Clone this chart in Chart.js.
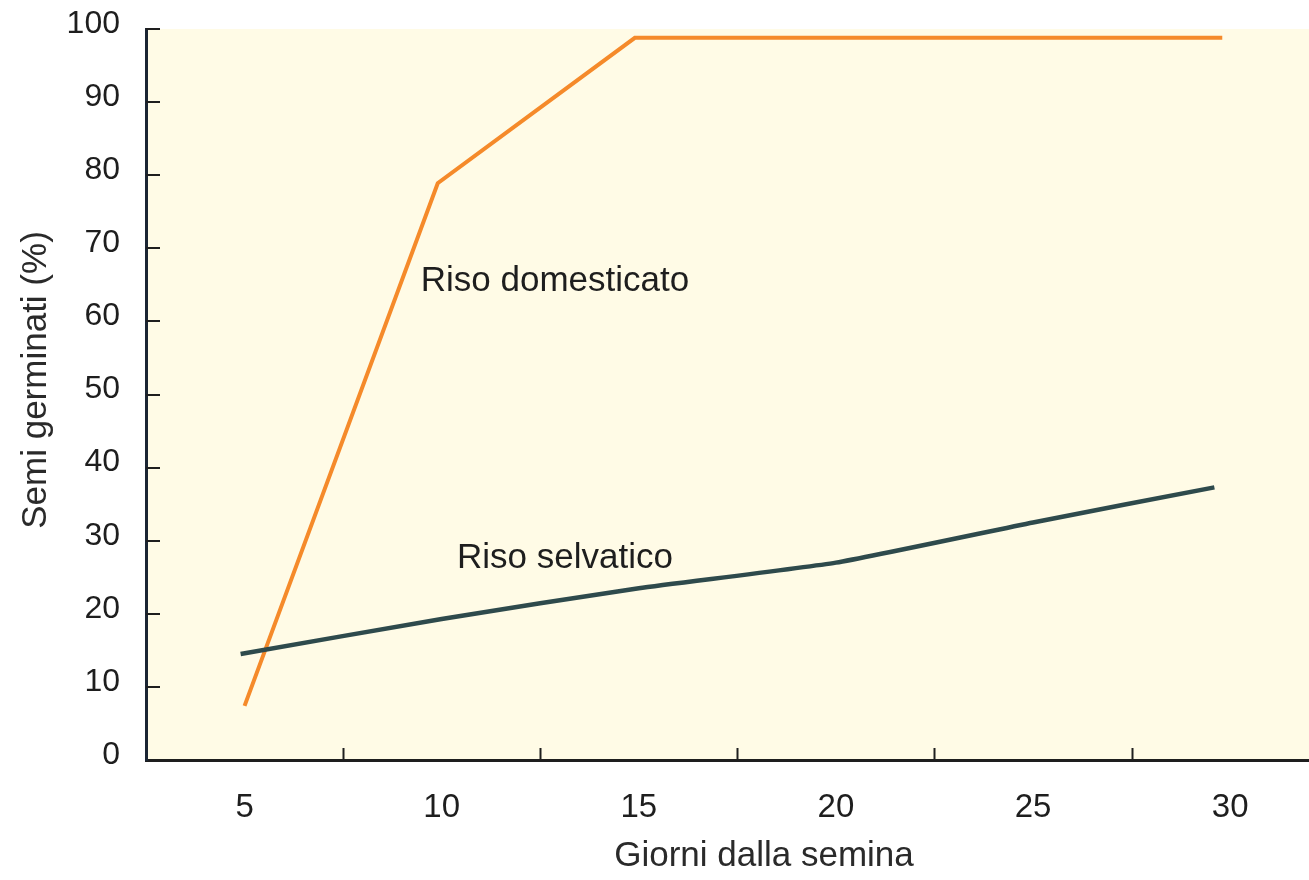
<!DOCTYPE html>
<html>
<head>
<meta charset="utf-8">
<script src="https://cdn.jsdelivr.net/npm/chart.js@4/dist/chart.umd.min.js"></script>
<style>
  body { margin: 0; background: #ffffff; }
  #box { width: 1309px; height: 880px; }
</style>
</head>
<body>
<div id="box"><canvas id="grafico" width="1309" height="880"></canvas></div>
<script>
// dati
const giorniDomesticato = [5, 9.9, 14.9, 29.8];
const risoDomesticato = [7.4, 78.9, 98.8, 98.8];
const giorniSelvatico = [4.9, 10, 15, 20, 25, 29.6];
const risoSelvatico = [14.5, 19.3, 23.5, 27, 32.5, 37.3];

const xTickLabels = [5, 10, 15, 20, 25, 30];
const xTickMarks = [7.5, 12.5, 17.5, 22.5, 27.5];
const yTickLabels = [0, 10, 20, 30, 40, 50, 60, 70, 80, 90, 100];

const etichette = [
    { testo: 'Riso domesticato', x: 9.47, y: 65.5 },
    { testo: 'Riso selvatico', x: 10.39, y: 27.6 }
];

const font = 'Liberation Sans, Arial, Helvetica, sans-serif';

const sfondoPlugin = {
    id: 'sfondo',
    beforeDraw(chart) {
        const { ctx, chartArea } = chart;
        ctx.save();
        ctx.fillStyle = '#fffbe6';
        ctx.fillRect(chartArea.left, chartArea.top, chartArea.right - chartArea.left, chartArea.bottom - chartArea.top);
        ctx.restore();
    },
    afterDraw(chart) {
        const { ctx, chartArea, scales } = chart;
        ctx.save();
        // tacche interne
        ctx.strokeStyle = '#1e1e1e';
        ctx.lineWidth = 2;
        xTickMarks.forEach(v => {
            const px = Math.round(scales.x.getPixelForValue(v)) + 0.5;
            ctx.beginPath();
            ctx.moveTo(px, chartArea.bottom);
            ctx.lineTo(px, chartArea.bottom - 12);
            ctx.stroke();
        });
        yTickLabels.forEach(v => {
            if (v === 0) return;
            const py = Math.round(scales.y.getPixelForValue(v));
            ctx.beginPath();
            ctx.moveTo(chartArea.left, py);
            ctx.lineTo(chartArea.left + 14, py);
            ctx.stroke();
        });
        // etichette delle curve
        ctx.fillStyle = '#1e1e1e';
        ctx.font = '35px ' + font;
        ctx.textAlign = 'left';
        ctx.textBaseline = 'middle';
        etichette.forEach(e => {
            ctx.fillText(e.testo, scales.x.getPixelForValue(e.x), scales.y.getPixelForValue(e.y));
        });
        // titoli degli assi
        ctx.fillStyle = '#2a2a2a';
        ctx.textAlign = 'center';
        ctx.fillText('Giorni dalla semina', 764, 856);
        ctx.translate(36, 380);
        ctx.rotate(-Math.PI / 2);
        ctx.fillText('Semi germinati (%)', 0, 0);
        ctx.restore();
    }
};

new Chart(document.getElementById('grafico'), {
    type: 'line',
    data: {
        datasets: [
            {
                label: 'Riso selvatico',
                data: giorniSelvatico.map((g, i) => ({ x: g, y: risoSelvatico[i] })),
                borderColor: '#2e4a4c',
                borderWidth: 4.5,
                pointRadius: 0,
                tension: 0.15,
                order: 0
            },
            {
                label: 'Riso domesticato',
                data: giorniDomesticato.map((g, i) => ({ x: g, y: risoDomesticato[i] })),
                borderColor: '#f58a2a',
                borderWidth: 4,
                pointRadius: 0,
                tension: 0,
                order: 1
            }
        ]
    },
    options: {
        responsive: false,
        animation: false,
        layout: { padding: { top: 29, right: 0, left: 0, bottom: 0 } },
        plugins: { legend: { display: false }, tooltip: { enabled: false } },
        scales: {
            x: {
                type: 'linear',
                min: 2.5,
                max: 32,
                afterBuildTicks: scale => { scale.ticks = xTickLabels.map(v => ({ value: v })); },
                afterFit: scale => { scale.height = 120; scale.paddingLeft = 0; scale.paddingRight = 0; },
                grid: { drawOnChartArea: false, drawTicks: false },
                border: { display: true, color: '#1e1e1e', width: 3 },
                ticks: { color: '#1e1e1e', font: { family: font, size: 33 }, padding: 28, maxRotation: 0 }
            },
            y: {
                min: 0,
                max: 100,
                afterBuildTicks: scale => { scale.ticks = yTickLabels.map(v => ({ value: v })); },
                afterFit: scale => { scale.width = 146; scale.paddingTop = 0; scale.paddingBottom = 0; },
                grid: { drawOnChartArea: false, drawTicks: false },
                border: { display: true, color: '#1b2533', width: 3 },
                ticks: { color: '#1e1e1e', font: { family: font, size: 32 }, padding: 26, labelOffset: -5 }
            }
        }
    },
    plugins: [sfondoPlugin]
});
</script>
</body>
</html>
